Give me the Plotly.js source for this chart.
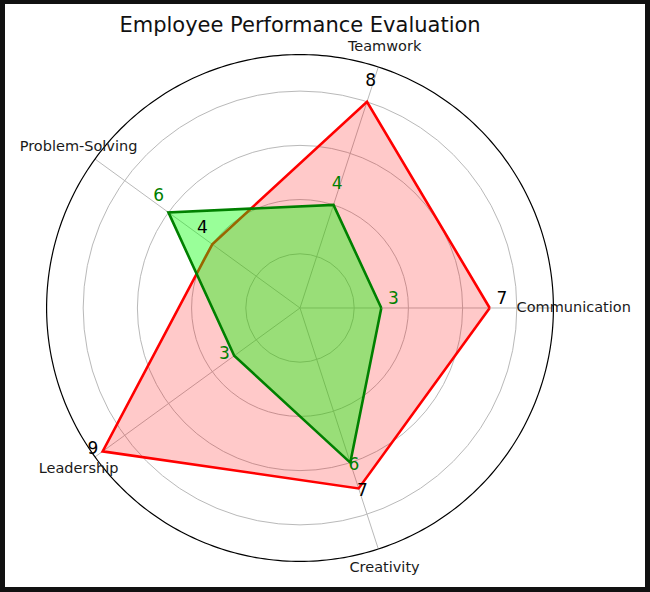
<!DOCTYPE html>
<html>
<head>
<meta charset="utf-8">
<script src="https://cdn.plot.ly/plotly-3.0.1.min.js"></script>
<style>
  html, body { margin: 0; padding: 0; background: #111111; width: 650px; height: 592px; overflow: hidden; }
  #chart { position: absolute; left: 5px; top: 4px; width: 640px; height: 583px; background: #ffffff; }
</style>
</head>
<body>
<div id="chart"></div>
<script>
const categories = ["Communication", "Teamwork", "Problem-Solving", "Leadership", "Creativity"];
const employeeA = [7, 8, 4, 9, 7];
const employeeB = [3, 4, 6, 3, 6];
const radialGrid = [2, 4, 6, 8];

const rMax = 9.35;        // outer frame of the radar
const rView = 10.25;      // plotting range (room for outer labels)
const valueLabelOffset = 0.45;
const categoryLabelRadius = 10.1;

const angles = categories.map((_, i) => i * 360 / categories.length);
function closeLoop(arr) { return arr.concat([arr[0]]); }

const traces = [];

// spokes (angular grid lines) from centre to the frame
angles.forEach(a => {
  traces.push({
    type: "scatterpolar", r: [0, rMax], theta: [a, a], mode: "lines",
    line: { color: "#b9b9b9", width: 1 }, hoverinfo: "skip", showlegend: false
  });
});

// outer frame circle
const circleTheta = [];
for (let t = 0; t <= 360; t += 1) circleTheta.push(t);
traces.push({
  type: "scatterpolar", r: circleTheta.map(() => rMax), theta: circleTheta, mode: "lines",
  line: { color: "#000000", width: 1.2 }, hoverinfo: "skip", showlegend: false
});

traces.push({
  type: "scatterpolar",
  r: closeLoop(employeeA), theta: closeLoop(angles),
  mode: "lines", fill: "toself",
  fillcolor: "rgba(255,0,0,0.21)",
  line: { color: "#ff0000", width: 2.6 },
  hoverinfo: "skip", showlegend: false
});
traces.push({
  type: "scatterpolar",
  r: closeLoop(employeeB), theta: closeLoop(angles),
  mode: "lines", fill: "toself",
  fillcolor: "rgba(0,255,0,0.4)",
  line: { color: "#008000", width: 2.6 },
  hoverinfo: "skip", showlegend: false
});

// value labels
traces.push({
  type: "scatterpolar",
  r: employeeA.map(v => v + valueLabelOffset), theta: angles,
  mode: "text", text: employeeA.map(String), textposition: "top center",
  textfont: { family: "DejaVu Sans", size: 17, color: "#000000" },
  cliponaxis: false, hoverinfo: "skip", showlegend: false
});
traces.push({
  type: "scatterpolar",
  r: employeeB.map(v => v + valueLabelOffset), theta: angles,
  mode: "text", text: employeeB.map(String), textposition: "top center",
  textfont: { family: "DejaVu Sans", size: 17, color: "#008000" },
  cliponaxis: false, hoverinfo: "skip", showlegend: false
});

// category labels
traces.push({
  type: "scatterpolar",
  r: categories.map(() => categoryLabelRadius), theta: angles,
  mode: "text", text: categories, textposition: "middle center",
  textfont: { family: "DejaVu Sans", size: 14.5, color: "#1a1a1a" },
  cliponaxis: false, hoverinfo: "skip", showlegend: false
});

const layout = {
  width: 640,
  height: 583,
  margin: { l: 0, r: 0, t: 0, b: 0 },
  paper_bgcolor: "#ffffff",
  font: { family: "DejaVu Sans", color: "#262626" },
  title: {
    text: "Employee Performance Evaluation",
    font: { family: "DejaVu Sans", size: 21, color: "#111111" },
    x: 0.461, xanchor: "center", xref: "paper",
    y: 0.965, yanchor: "middle", yref: "container"
  },
  polar: {
    domain: { x: [0.02688, 0.895], y: [0.00206, 0.9551] },
    bgcolor: "rgba(0,0,0,0)",
    radialaxis: {
      range: [0, rView],
      tickvals: radialGrid,
      showticklabels: false,
      ticks: "",
      showline: false,
      gridcolor: "#b9b9b9",
      gridwidth: 1
    },
    angularaxis: {
      direction: "counterclockwise",
      rotation: 0,
      thetaunit: "degrees",
      showticklabels: false,
      ticks: "",
      showline: false,
      showgrid: false
    }
  }
};

Plotly.newPlot("chart", traces, layout, { displayModeBar: false, staticPlot: true });
</script>
</body>
</html>
